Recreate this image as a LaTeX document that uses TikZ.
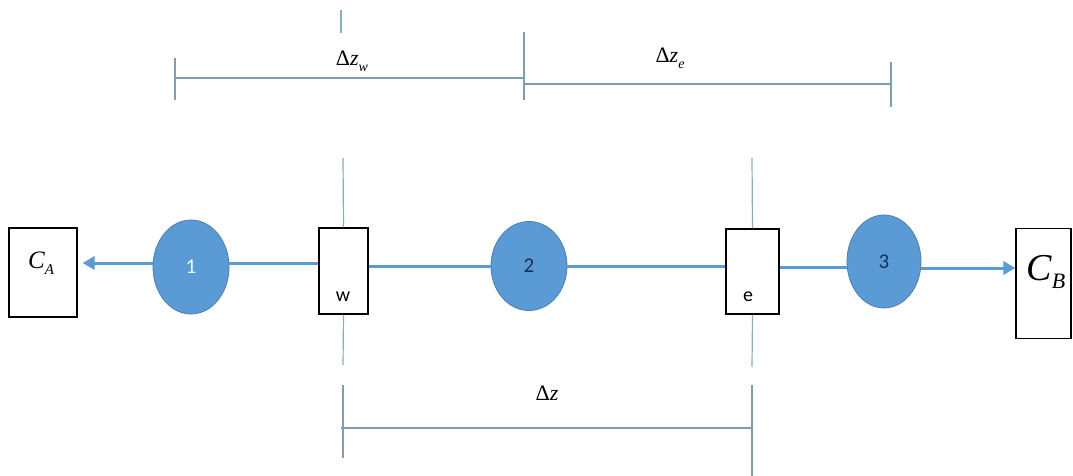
\documentclass[tikz,border=0pt]{standalone}
\usepackage{fontspec}
\setmainfont{Carlito}
\newfontfamily\tms{Liberation Serif}
\usetikzlibrary{arrows.meta,shapes.geometric}
\definecolor{fillblue}{HTML}{5B9BD5}
\definecolor{edgeblue}{HTML}{4A7FB0}
\definecolor{dimgrey}{HTML}{7F9DB3}
\definecolor{lightdim}{HTML}{86AEC4}
\definecolor{navy}{HTML}{1F2D4D}
\begin{document}
\begin{tikzpicture}[x=1pt,y=-1pt,
  cell/.style={ellipse, draw=edgeblue, line width=0.8pt, fill=fillblue, inner sep=0pt, font=\fontsize{21}{21}\selectfont},
  facebox/.style={draw=black, line width=1.2pt, fill=white, inner sep=0pt},
  flow/.style={draw=fillblue, line width=3pt},
  flowarrow/.style={flow, -{Triangle[length=12pt,width=13pt]}},
  dimline/.style={draw=dimgrey, line width=1.1pt},
  gridline/.style={draw=lightdim, line width=1.2pt},
  lbl/.style={font=\tms\fontsize{22}{22}\selectfont, inner sep=0pt},
  facelbl/.style={font=\fontsize{20}{20}\selectfont, inner sep=0pt}
]
\useasboundingbox (0,0) rectangle (1073,476);
\fill[white] (0,0) rectangle (1073,476);

% row coordinates
\coordinate (rowA) at (0,263);
\coordinate (rowB) at (0,266);
\coordinate (rowC) at (0,267);
\coordinate (rowD) at (0,268);

% vertical grid line ends
\coordinate (wtop) at (343,158);
\coordinate (wlow) at (343,365);
\coordinate (wtickA) at (343,385);
\coordinate (wtickB) at (343,458);
\coordinate (etop) at (752,158);
\coordinate (elow) at (752,367);
\coordinate (etickA) at (752,385);
\coordinate (etickB) at (752,476);

% boxes
\node[facebox, minimum width=68pt, minimum height=89pt] (ca) at (43,272.5) {};
\node[facebox, minimum width=55pt, minimum height=110pt] (cb) at (1043.5,283.5) {};
\node[facebox, minimum width=49pt, minimum height=86pt] (wbox) at (343.5,271) {};
\node[facebox, minimum width=53pt, minimum height=85pt] (ebox) at (752.5,271.5) {};

\draw[gridline] (wtop) -- (wbox.north);
\draw[gridline] (wbox.south) -- (wlow);
\draw[dimline] (wtickA) -- (wtickB);
\draw[gridline] (etop) -- (ebox.north);
\draw[gridline] (ebox.south) -- (elow);
\draw[dimline] (etickA) -- (etickB);

% cells
\node[cell, minimum width=76pt, minimum height=94pt, text=white] (c1) at (191,267) {1};
\node[cell, minimum width=76pt, minimum height=89pt, text=navy] (c2) at (529,266) {2};
\node[cell, minimum width=74pt, minimum height=93pt, text=navy] (c3) at (884,261.5) {3};

% flow connectors
\draw[flowarrow, shorten >=5pt] (c1.west |- rowA) -- (ca.east |- rowA);
\draw[flow] (c1.east |- rowA) -- (wbox.west |- rowA);
\draw[flow] (wbox.east |- rowB) -- (c2.west |- rowB);
\draw[flow] (c2.east |- rowB) -- (ebox.west |- rowB);
\draw[flow] (ebox.east |- rowC) -- (c3.west |- rowC);
\draw[flowarrow] (c3.east |- rowD) -- (cb.west |- rowD);

% box labels
\node[lbl, font=\tms\fontsize{25}{25}\selectfont] (calbl) at (41,263) {\itshape C\raisebox{-6pt}{\fontsize{15}{15}\selectfont A}};
\node[lbl, font=\tms\fontsize{38}{38}\selectfont] (cblbl) at (1046,272) {\itshape C\raisebox{-8pt}{\fontsize{22}{22}\selectfont B}};
\node[facelbl] (wlbl) at (343,297) {w};
\node[facelbl] (elbl) at (748,297) {e};

% top dimension
\coordinate (topA) at (341,10);
\coordinate (topB) at (341,33);
\draw[gridline] (topA) -- (topB);
\coordinate (dwL) at (175,78);
\coordinate (dwR) at (524,78);
\coordinate (dwLt) at (175,58);
\coordinate (dwLb) at (175,100);
\coordinate (dmT) at (524,32);
\coordinate (dmB) at (524,100);
\coordinate (deL) at (524,84);
\coordinate (deR) at (891,84);
\coordinate (deRt) at (891,62);
\coordinate (deRb) at (891,107);
\draw[dimline] (dwLt) -- (dwLb);
\draw[dimline] (dwL) -- (dwR);
\draw[dimline] (dmT) -- (dmB);
\draw[dimline] (deL) -- (deR);
\draw[dimline] (deRt) -- (deRb);

\node[lbl] (dzw) at (352,61) {Δ\textit{z}\raisebox{-6pt}{\fontsize{14}{14}\selectfont\textit{w}}};
\node[lbl] (dze) at (670,58) {Δ\textit{z}\raisebox{-6pt}{\fontsize{14}{14}\selectfont\textit{e}}};

% bottom dimension
\coordinate (dzL) at (341,428);
\coordinate (dzR) at (753,428);
\draw[dimline] (dzL) -- (dzR);
\node[lbl] (dz) at (547,393) {Δ\textit{z}};
\end{tikzpicture}
\end{document}
